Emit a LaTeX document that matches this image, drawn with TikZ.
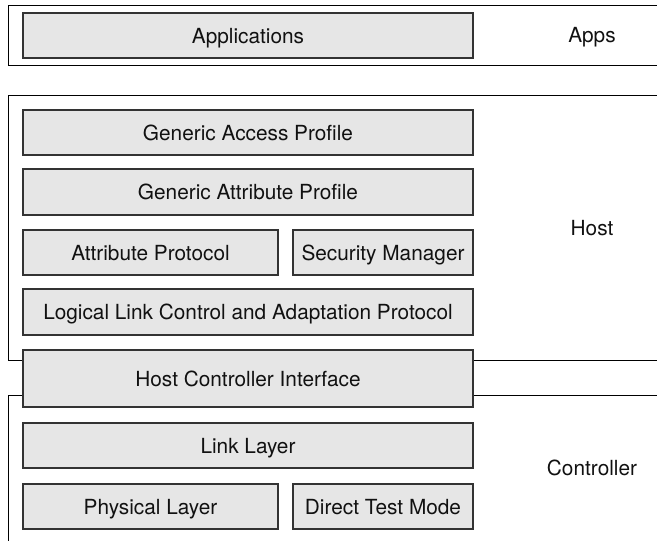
\documentclass[tikz,border=0pt]{standalone}
\usepackage{fontspec}
\setmainfont{TeX Gyre Heros}
\definecolor{boxfill}{HTML}{E6E6E6}
\definecolor{boxline}{HTML}{333333}
\definecolor{txt}{HTML}{111111}
\begin{document}
\begin{tikzpicture}[x=1pt,y=-1pt,
  layerbox/.style={draw=boxline, line width=1.3pt, fill=boxfill, inner sep=0pt, outer sep=0pt,
    text=txt, text height=15pt, text depth=0pt, font=\fontsize{20.8}{24}\selectfont},
  frame/.style={draw=black, line width=1pt},
  tag/.style={text=txt, inner sep=0pt, text height=15pt, text depth=0pt, font=\fontsize{20.8}{24}\selectfont}]
\useasboundingbox (0,0) rectangle (657,541);
\clip (0,0) rectangle (657,541);
% outer frames
\draw[frame] (660,5) -- (8,5) -- (8,65) -- (660,65);
\draw[frame] (660,95) -- (8,95) -- (8,360) -- (23,360);
\draw[frame] (473,360) -- (660,360);
\draw[frame] (23,395) -- (8,395) -- (8,545);
\draw[frame] (473,395) -- (660,395);
% boxes
\node[layerbox, minimum width=450, minimum height=45] (apps) at (248,35.5) {Applications};
\node[layerbox, minimum width=450, minimum height=45] (gap) at (248,132.5) {Generic Access Profile};
\node[layerbox, minimum width=450, minimum height=46] (gatt) at (248,192) {Generic Attribute Profile};
\node[layerbox, minimum width=255, minimum height=45] (att) at (150.5,252.5) {Attribute Protocol};
\node[layerbox, minimum width=180, minimum height=45] (sm) at (383,252.5) {Security Manager};
\node[layerbox, minimum width=450, minimum height=46] (l2cap) at (248,312) {Logical Link Control and Adaptation Protocol};
\node[layerbox, minimum width=450, minimum height=57] (hci) at (248,378.5) {Host Controller Interface};
\node[layerbox, minimum width=450, minimum height=45] (ll) at (248,445.5) {Link Layer};
\node[layerbox, minimum width=255, minimum height=45] (phy) at (150.5,506.5) {Physical Layer};
\node[layerbox, minimum width=180, minimum height=45] (dtm) at (383,506.5) {Direct Test Mode};
% labels
\node[tag] (lapps) at (592,35) {Apps};
\node[tag] (lhost) at (592,228) {Host};
\node[tag] (lctrl) at (592,468) {Controller};
\end{tikzpicture}
\end{document}
